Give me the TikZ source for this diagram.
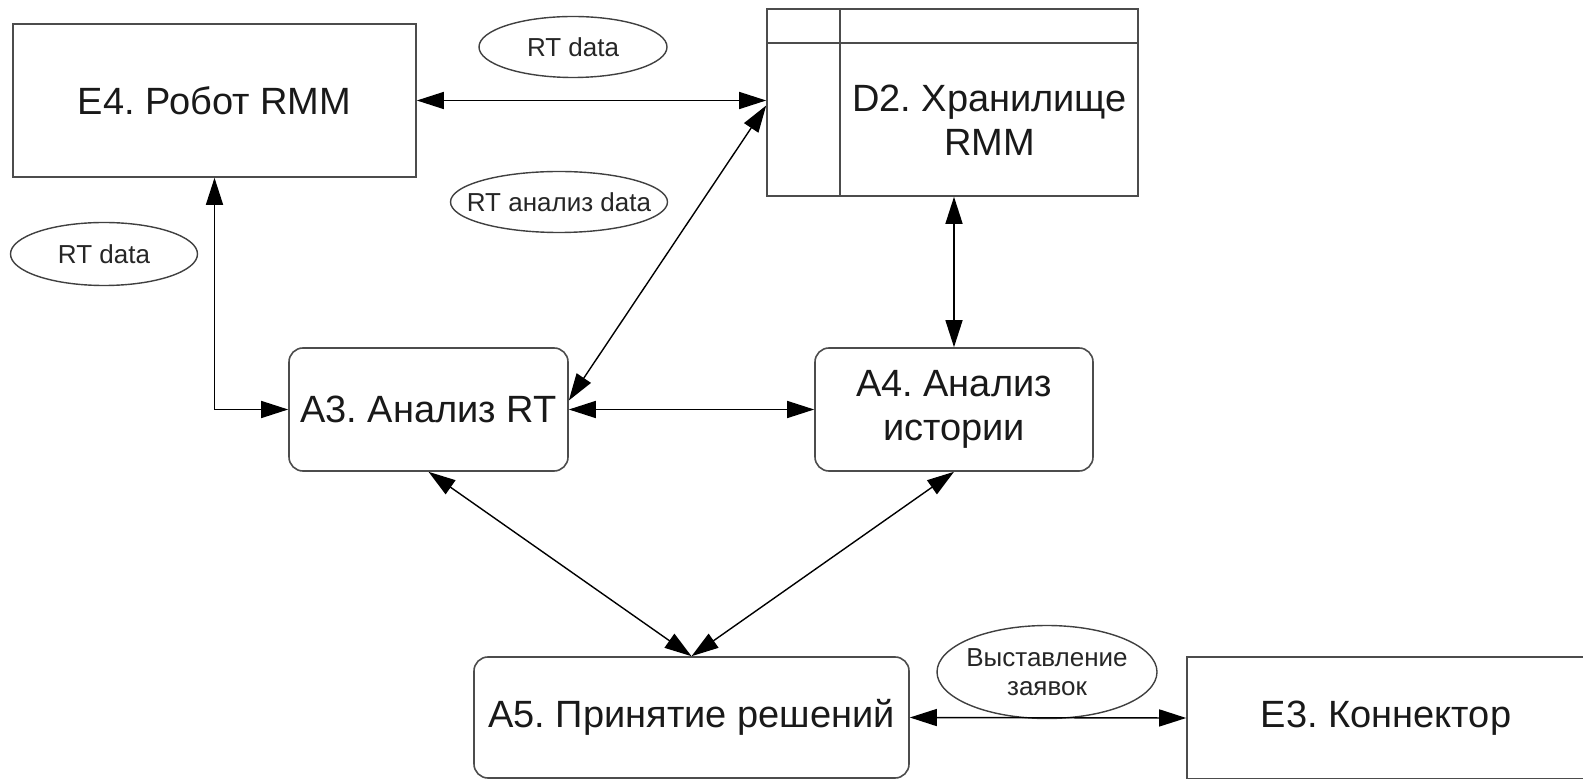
\documentclass[tikz,border=0pt]{standalone}
\usepackage{fontspec}
\setmainfont{Liberation Sans}
\usetikzlibrary{arrows.meta,calc,shapes.geometric,positioning}
\frenchspacing

\begin{document}
\begin{tikzpicture}[x=0.5pt, y=-0.5pt]
    \tikzset{BigText/.style = {font=\fontsize{19}{22}\selectfont, align=center, text=black!90},
      EntStyle/.style = {BigText, draw=black!70, line width=0.8pt},
      ProcStyle/.style = {EntStyle, rounded corners=7pt},
      DataStyle/.style = {font=\fontsize{13}{14.5}\selectfont, align=center, text=black!85},
      OvalStyle/.style = {draw=black!75, line width=0.7pt},
      FlowStyle/.style = {{Triangle[length=13.5pt,width=8.5pt]}-{Triangle[length=13.5pt,width=8.5pt]}, line width=0.7pt}}
    \useasboundingbox (0,0) rectangle (1583,779);
    \clip (0,0) rectangle (1583,779);
    \node[EntStyle, minimum width=201.5pt, minimum height=76.5pt] (E4) at (214.5,100.5) {E4. Робот RMM};
    \node[EntStyle, minimum width=185.5pt, minimum height=93.5pt] (D2) at (952.5,102.5) {};
    \node[BigText] (D2text) at (989.5,120) {D2. Хранилище\\RMM};
    \draw[draw=black!70, line width=0.8pt] ($(D2.north west)+(0,35)$) -- ($(D2.north east)+(0,35)$);
    \draw[draw=black!70, line width=0.8pt] ($(D2.north west)+(74,0)$) -- ($(D2.south west)+(74,0)$);
    \node[ProcStyle, minimum width=139.5pt, minimum height=61.5pt] (A3) at (428.5,409.5) {A3. Анализ RT};
    \node[ProcStyle, minimum width=139pt, minimum height=61.5pt] (A4) at (954,409.5) {A4. Анализ\\истории};
    \node[ProcStyle, minimum width=217.5pt, minimum height=60.5pt] (A5) at (691.5,717.5) {A5. Принятие решений};
    \node[EntStyle, minimum width=199pt, minimum height=61pt] (E3) at (1386,718) {E3. Коннектор};
    \node[DataStyle] (topRT) at (573,47) {RT data};
    \draw[OvalStyle] (topRT.center) ellipse [x radius=47pt, y radius=15.25pt];
    \node[DataStyle] (midRT) at (559,202) {RT анализ data};
    \draw[OvalStyle] (midRT.center) ellipse [x radius=54.25pt, y radius=15.25pt];
    \node[DataStyle] (leftRT) at (104,254) {RT data};
    \draw[OvalStyle] (leftRT.center) ellipse [x radius=46.75pt, y radius=15.75pt];
    \node[DataStyle] (bids) at (1047,672) {Выставление\\заявок};
    \draw[OvalStyle] (bids.center) ellipse [x radius=55pt, y radius=23.25pt];
    \draw[FlowStyle] (E4.east) -- (E4.east -| D2.west);
    \draw[FlowStyle] ($(A3.east)+(0,-9)$) -- ($(D2.west)+(0,3)$);
    \draw[FlowStyle] (A3.west) -| (E4.south);
    \draw[FlowStyle] (A3.east) -- (A4.west);
    \draw[FlowStyle] (A4.north |- D2.south) -- (A4.north);
    \draw[FlowStyle] (A3.south) -- (A5.north);
    \draw[FlowStyle] (A4.south) -- (A5.north);
    \draw[FlowStyle] (A5.east) -- (E3.west);
\end{tikzpicture}
\end{document}
